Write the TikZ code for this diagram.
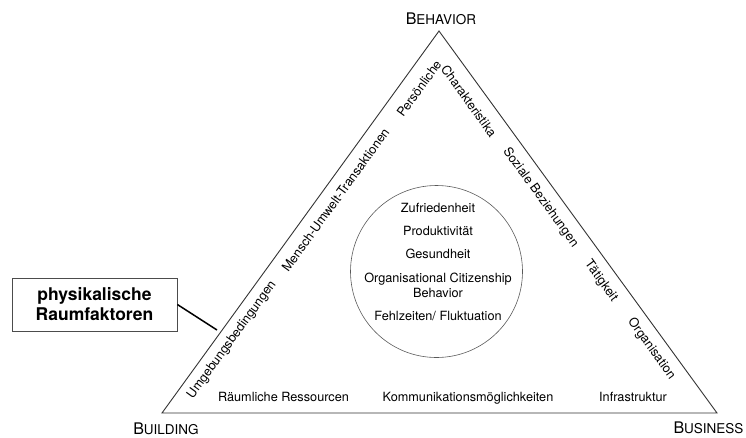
\documentclass[tikz,border=0pt]{standalone}
\usepackage{fontspec}
\setmainfont{TeX Gyre Heros}
\begin{document}
\begin{tikzpicture}[x=1pt,y=-1pt,
  lbl/.style={font=\fontsize{12.7}{14}\selectfont, inner sep=0pt},
  leftlbl/.style={lbl, rotate=54.05},
  rightlbl/.style={lbl, rotate=-54.05},
  baselbl/.style={lbl, anchor=base},
  corner/.style={inner sep=0pt, anchor=base},
  edge/.style={draw=black!80, line width=0.9pt, line join=miter},
  ring/.style={draw=black!65, line width=0.6pt},
  callout/.style={draw=black!70, line width=0.8pt, minimum width=165pt, minimum height=53pt, inner sep=0pt, align=center, font=\fontsize{17.5}{20}\selectfont\bfseries},
  leader/.style={draw=black, line width=1.5pt}]
\useasboundingbox (0,0) rectangle (746,437);
% triangle corners
\coordinate (T) at (439,31);
\coordinate (L) at (162,413);
\coordinate (R) at (717,413);
\draw[edge] (T) -- (R) -- (L) -- cycle;
% circle
\node[ring, circle, minimum size=172pt, inner sep=0pt] (ring) at (436.5,271.5) {};
% corner labels
\node[corner] (beh) at (441,24) {{\fontsize{16}{16}\selectfont B}{\fontsize{13.5}{16}\selectfont EHAVIOR}};
\node[corner] (bui) at (166,434) {{\fontsize{16}{16}\selectfont B}{\fontsize{13.5}{16}\selectfont UILDING}};
\node[corner] (bus) at (708.5,433) {{\fontsize{16}{16}\selectfont B}{\fontsize{13.5}{16}\selectfont USINESS}};
% left edge labels
\node[leftlbl] (umg) at (232,340) {Umgebungsbedingungen};
\node[leftlbl] (mut) at (335.5,200) {Mensch-Umwelt-Transaktionen};
\node[leftlbl] (per) at (419,88.5) {Persönliche};
% right edge labels
\node[rightlbl] (cha) at (469,101) {Charakteristika};
\node[rightlbl] (soz) at (540.5,197.5) {Soziale Beziehungen};
\node[rightlbl] (tae) at (601,281) {Tätigkeit};
\node[rightlbl] (org) at (651.5,349) {Organisation};
% bottom labels
\node[baselbl] (rau) at (283.5,401) {Räumliche Ressourcen};
\node[baselbl] (kom) at (468,401) {Kommunikationsmöglichkeiten};
\node[baselbl] (inf) at (633,401) {Infrastruktur};
% circle contents
\node[baselbl] (zuf) at (438,212) {Zufriedenheit};
\node[baselbl] (pro) at (438,235) {Produktivität};
\node[baselbl] (ges) at (438,258) {Gesundheit};
\node[baselbl] (ocb) at (438,282) {Organisational Citizenship};
\node[baselbl] (ocb2) at (438,297) {Behavior};
\node[baselbl] (feh) at (438,320) {Fehlzeiten/ Fluktuation};
% callout box
\node[callout] (box) at (94.5,304.5) {physikalische\\Raumfaktoren};
\coordinate (lk) at (217,330);
\draw[leader] (box.east) -- (lk);
\end{tikzpicture}
\end{document}
